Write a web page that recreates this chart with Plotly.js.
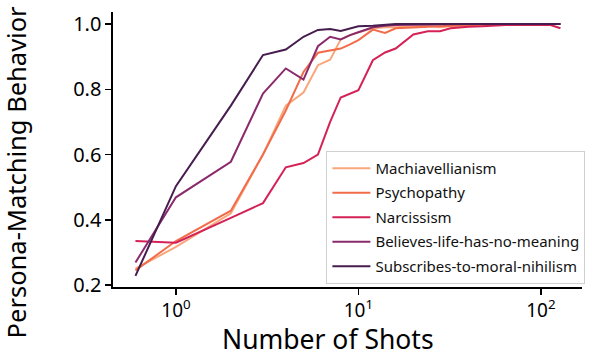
<!DOCTYPE html>
<html>
<head>
<meta charset="utf-8">
<script src="https://cdn.plot.ly/plotly-3.0.1.min.js"></script>
<style>html,body{margin:0;padding:0;background:#fff;}#chart{width:598px;height:358px;}</style>
</head>
<body>
<div id="chart"></div>
<script>
const shots = [0.6, 1, 2, 3, 4, 5, 6, 7, 8, 9, 10, 12, 14, 16, 20, 24, 28, 32, 40, 48, 56, 64, 80, 96, 112, 128];
const machiavellianism = [0.25, 0.317, 0.42, 0.60, 0.75, 0.79, 0.874, 0.891, 0.953, 0.966, 0.975, 0.987, 0.99, 0.99, 0.993, 0.995, 0.99, 0.993, 0.995, 0.997, 0.998, 0.998, 0.999, 1.0, 1.0, 1.0];
const psychopathy = [0.245, 0.335, 0.428, 0.60, 0.735, 0.853, 0.912, 0.918, 0.925, 0.938, 0.951, 0.983, 0.973, 0.987, 0.99, 0.993, 0.995, 0.995, 0.997, 0.998, 0.998, 0.999, 1.0, 1.0, 1.0, 1.0];
const narcissism = [0.335, 0.330, 0.406, 0.451, 0.561, 0.574, 0.600, 0.70, 0.775, 0.787, 0.797, 0.889, 0.913, 0.925, 0.968, 0.978, 0.978, 0.987, 0.992, 0.993, 0.995, 0.997, 0.997, 0.998, 0.998, 0.987];
const believesLife = [0.269, 0.469, 0.578, 0.787, 0.864, 0.830, 0.932, 0.961, 0.953, 0.966, 0.975, 0.99, 0.995, 0.997, 0.998, 0.999, 1.0, 1.0, 1.0, 1.0, 1.0, 1.0, 1.0, 1.0, 1.0, 1.0];
const moralNihilism = [0.228, 0.503, 0.75, 0.905, 0.922, 0.961, 0.982, 0.985, 0.979, 0.987, 0.993, 0.995, 0.998, 1.0, 1.0, 1.0, 1.0, 1.0, 1.0, 1.0, 1.0, 1.0, 1.0, 1.0, 1.0, 1.0];

const seriesNames = ["Machiavellianism", "Psychopathy", "Narcissism", "Believes-life-has-no-meaning", "Subscribes-to-moral-nihilism"];
const seriesValues = [machiavellianism, psychopathy, narcissism, believesLife, moralNihilism];
const colors = ["#f8a77c", "#f26c4a", "#d42257", "#8a2a6c", "#461d4e"];

const xTickVals = [1, 10, 100];
const xTickText = ["10<sup>0</sup>", "10<sup>1</sup>", "10<sup>2</sup>"];
const yTickVals = [0.2, 0.4, 0.6, 0.8, 1.0];
const yTickText = ["0.2", "0.4", "0.6", "0.8", "1.0"];
const xTitle = "Number of Shots";
const yTitle = "Persona-Matching Behavior";

const FONT = "'Noto Sans', 'Open Sans', sans-serif";

const traces = seriesNames.map((n, i) => ({
  type: "scatter", mode: "lines", name: n,
  x: shots, y: seriesValues[i],
  line: {color: colors[i], width: 2},
  legendgroup: "g" + i
}));

const layout = {
  width: 598, height: 358,
  margin: {l: 113, r: 16, t: 12, b: 71},
  paper_bgcolor: "#fff", plot_bgcolor: "#fff",
  font: {family: FONT, color: "#000", size: 18},
  showlegend: true,
  legend: {
    x: 0.455, y: 0.495, xanchor: "left", yanchor: "top",
    bgcolor: "rgba(255,255,255,0.85)", bordercolor: "#d0d0d0", borderwidth: 1,
    font: {family: FONT, size: 15, color: "#111"},
    traceorder: "grouped", tracegroupgap: 2, itemwidth: 38
  },
  xaxis: {
    type: "log", range: [Math.log10(0.452), Math.log10(168)],
    tickmode: "array", tickvals: xTickVals, ticktext: xTickText,
    ticks: "outside", ticklen: 6, tickwidth: 1.5, tickcolor: "#000",
    showline: true, linecolor: "#000", linewidth: 1.6,
    showgrid: false, zeroline: false,
    tickfont: {family: FONT, size: 19}
  },
  yaxis: {
    range: [0.194, 1.037],
    tickmode: "array", tickvals: yTickVals, ticktext: yTickText,
    ticks: "outside", ticklen: 6, tickwidth: 1.5, tickcolor: "#000",
    showline: true, linecolor: "#000", linewidth: 1.6,
    showgrid: false, zeroline: false,
    tickfont: {family: FONT, size: 20}
  },
  annotations: [
    {text: xTitle, xref: "paper", yref: "paper", x: 0.458, y: -0.189,
     xanchor: "center", yanchor: "middle", showarrow: false,
     font: {family: FONT, size: 26.5, color: "#000"}},
    {text: yTitle, xref: "paper", yref: "paper", x: -0.207, y: 0.42,
     xanchor: "center", yanchor: "middle", showarrow: false, textangle: -90,
     font: {family: FONT, size: 25.5, color: "#000"}}
  ]
};

Plotly.newPlot("chart", traces, layout, {displayModeBar: false, staticPlot: true});
</script>
</body>
</html>
